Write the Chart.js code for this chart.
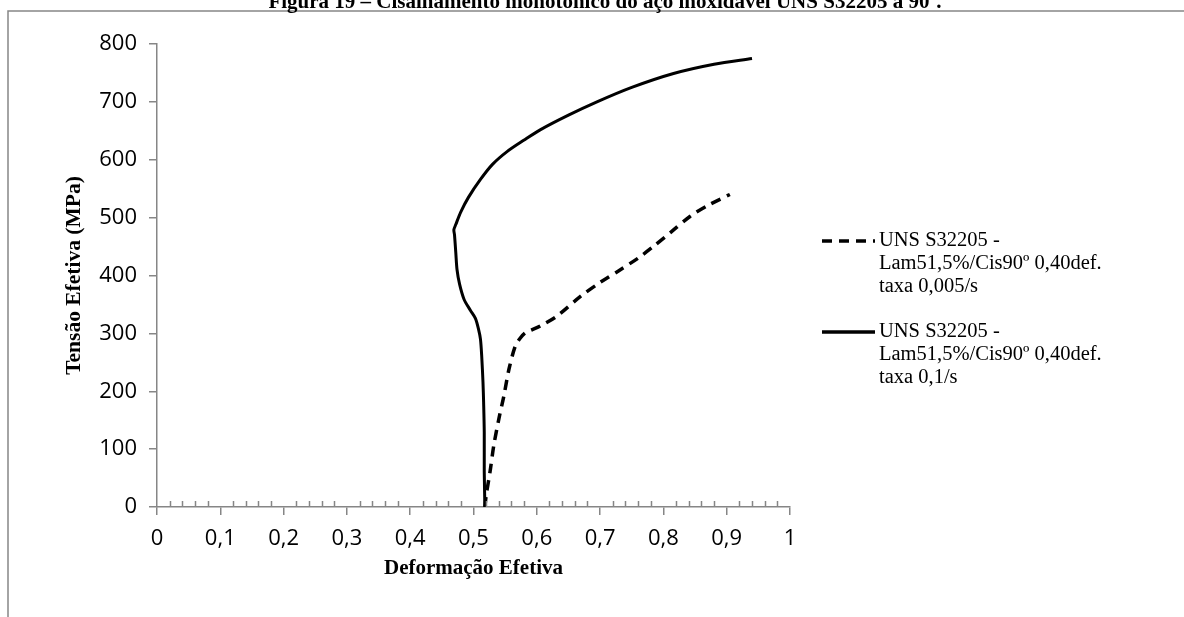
<!DOCTYPE html>
<html>
<head>
<meta charset="utf-8">
<script src="https://cdn.jsdelivr.net/npm/chart.js@4"></script>
<style>
html, body { margin: 0; padding: 0; background: #fff; }
#wrap { width: 1184px; height: 617px; }
</style>
</head>
<body>
<div id="wrap"><canvas id="curvaChart" width="1184" height="617"></canvas></div>
<script>

// curves: effective strain (x) and effective stress in MPa (y)

let strainSlow = [0.518, 0.520, 0.526, 0.532, 0.540, 0.548, 0.556, 0.566, 0.574, 0.582, 0.592, 0.606, 0.632, 0.669, 0.700, 0.732, 0.760, 0.784, 0.812, 0.842, 0.872, 0.905];
let stressSlow = [0, 20, 60, 106, 152, 192, 238, 278, 292, 301, 306, 313, 330, 364, 388, 410, 430, 450, 475, 502, 522, 540];

let strainFast = [0.518, 0.517, 0.517, 0.516, 0.515, 0.513, 0.511, 0.508, 0.503, 0.495, 0.485, 0.478, 0.474, 0.472, 0.470, 0.469, 0.472, 0.480, 0.492, 0.511, 0.530, 0.553, 0.580, 0.606, 0.650, 0.695, 0.750, 0.816, 0.880, 0.940];
let stressFast = [0, 60, 129, 180, 215, 260, 290, 307, 326, 340, 359, 385, 410, 440, 470, 479, 488, 510, 535, 566, 592, 614, 634, 652, 677, 700, 725, 749, 765, 775];

let seriesNames = [
["UNS S32205 -", "Lam51,5%/Cis90º 0,40def.", "taxa 0,005/s"],
["UNS S32205 -", "Lam51,5%/Cis90º 0,40def.", "taxa 0,1/s"]
];

let xTicks = [0, 0.1, 0.2, 0.3, 0.4, 0.5, 0.6, 0.7, 0.8, 0.9, 1];
let yTicks = [0, 100, 200, 300, 400, 500, 600, 700, 800];

let titleText = "Figura 19 – Cisalhamento monotônico do aço inoxidável UNS S32205 a 90º.";

function toPoints(xs, ys){
return xs.map((x, i) => ({x: x, y: ys[i]}));
}

let axisGray = "#868686";
let serif = "'Liberation Serif', 'Times New Roman', serif";
let sans = "'Open Sans', 'Liberation Sans', sans-serif";

// frame, title line and legend drawn around the plot

let framePlugin = {
id: "frame",
beforeDraw(chart){
let c = chart.ctx;
c.save();
c.fillStyle = "#fff";
c.fillRect(0, 0, chart.width, chart.height);
c.strokeStyle = axisGray;
c.lineWidth = 1.5;
c.beginPath();
c.moveTo(8, chart.height + 2);
c.lineTo(8, 11);
c.lineTo(chart.width + 2, 11);
c.stroke();
c.fillStyle = "#000";
c.font = "bold 21px " + serif;
c.textAlign = "center";
c.textBaseline = "alphabetic";
c.fillText(titleText, 605, 8);
c.restore();
}
};

// small ticks every 0,02 above the x axis

let minorTicks = {
id: "minorTicks",
afterDatasetsDraw(chart){
let xs = chart.scales.x;
let c = chart.ctx;
let y0 = xs.top;
c.save();
c.strokeStyle = axisGray;
c.lineWidth = 1.5;
c.beginPath();
for(let i = 1; i < 50; i++){
if(i % 5 === 0) continue;
let px = Math.round(xs.getPixelForValue(i * 0.02)) + 0.5;
c.moveTo(px, y0);
c.lineTo(px, y0 - 6);
}
c.stroke();
c.restore();
}
};

let sideLegend = {
id: "sideLegend",
afterDraw(chart){
let c = chart.ctx;
let rows = [241, 332];
c.save();
chart.data.datasets.forEach((ds, i) => {
let y = rows[i];
c.strokeStyle = "#000";
c.lineWidth = 3.5;
c.setLineDash(ds.borderDash || []);
c.beginPath();
c.moveTo(822, y);
c.lineTo(875, y);
c.stroke();
c.setLineDash([]);
c.fillStyle = "#000";
c.font = "20.5px " + serif;
c.textAlign = "left";
c.textBaseline = "middle";
seriesNames[i].forEach((line, j) => {
c.fillText(line, 879, y + j * 22.7);
});
});
c.restore();
}
};

let ctx = document.getElementById("curvaChart").getContext("2d");

let chart = new Chart(ctx, {

type: "scatter",

data: {
datasets: [
{
label: seriesNames[0].join(" "),
data: toPoints(strainSlow, stressSlow),
showLine: true,
borderColor: "#000",
borderWidth: 3.5,
borderDash: [10, 7],
pointRadius: 0,
tension: 0.3
},
{
label: seriesNames[1].join(" "),
data: toPoints(strainFast, stressFast),
showLine: true,
borderColor: "#000",
borderWidth: 3,
pointRadius: 0,
tension: 0.3
}
]
},

options: {
responsive: false,
animation: false,
layout: {
padding: {top: 44, right: 394, bottom: 0, left: 0}
},
plugins: {
legend: {display: false},
tooltip: {enabled: false}
},
scales: {
x: {
type: "linear",
min: 0,
max: 1,
afterBuildTicks(scale){
scale.ticks = xTicks.map(v => ({value: v}));
},
afterFit(scale){
scale.height = 110;
},
ticks: {
color: "#000",
font: {family: sans, size: 22},
padding: 11,
maxRotation: 0,
callback: v => String(Number(v.toFixed(1))).replace(".", ",")
},
grid: {
drawOnChartArea: false,
color: axisGray,
lineWidth: 1.5,
tickLength: 8
},
border: {color: axisGray, width: 1.5},
title: {
display: true,
text: "Deformação Efetiva",
color: "#000",
font: {family: serif, size: 21, weight: "bold"},
padding: {top: 0, bottom: 36}
}
},
y: {
type: "linear",
min: 0,
max: 800,
afterBuildTicks(scale){
scale.ticks = yTicks.map(v => ({value: v}));
},
afterFit(scale){
scale.width = 157;
},
ticks: {
color: "#000",
font: {family: sans, size: 22},
padding: 12
},
grid: {
drawOnChartArea: false,
color: axisGray,
lineWidth: 1.5,
tickLength: 8
},
border: {color: axisGray, width: 1.5},
title: {
display: true,
text: "Tensão Efetiva (MPa)",
color: "#000",
font: {family: serif, size: 21.5, weight: "bold"},
padding: {top: 62, bottom: 0}
}
}
}
},

plugins: [framePlugin, minorTicks, sideLegend]

});

</script>
</body>
</html>
